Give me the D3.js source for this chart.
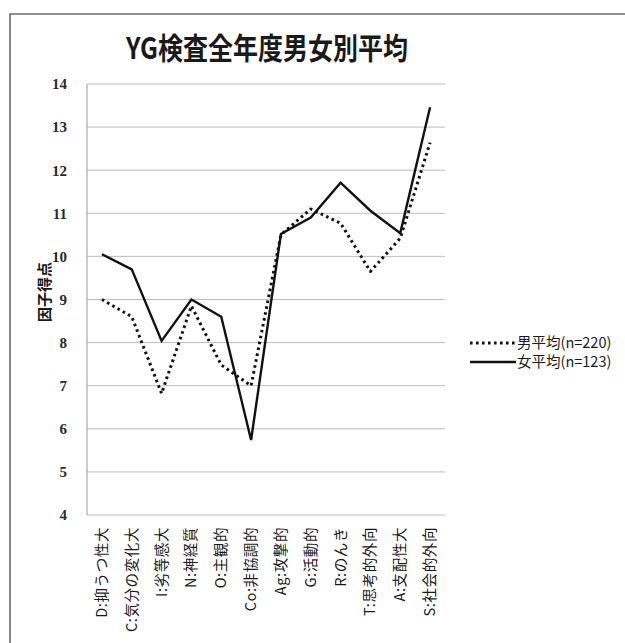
<!DOCTYPE html>
<html>
<head>
<meta charset="utf-8">
<script src="https://cdn.jsdelivr.net/npm/d3@7"></script>
<style>
  html, body { margin: 0; padding: 0; background: #fff; }
  svg { display: block; }
</style>
</head>
<body>
<svg id="chart" width="625" height="643"></svg>
<script>
// YG性格検査 因子別平均得点（男女別）
const categories = [
  "D:抑うつ性大", "C:気分の変化大", "I:劣等感大", "N:神経質", "O:主観的",
  "Co:非協調的", "Ag:攻撃的", "G:活動的", "R:のんき", "T:思考的外向",
  "A:支配性大", "S:社会的外向"
];
const maleValues   = [9.0, 8.6, 6.82, 8.85, 7.48, 7.0, 10.5, 11.1, 10.77, 9.65, 10.42, 12.64];
const femaleValues = [10.05, 9.7, 8.04, 9.0, 8.6, 5.74, 10.52, 10.9, 11.71, 11.06, 10.54, 13.46];
const yTicks = [4, 5, 6, 7, 8, 9, 10, 11, 12, 13, 14];
const seriesNames = ["男平均(n=220)", "女平均(n=123)"];
const titleText = "YG検査全年度男女別平均";
const yTitle = "因子得点";

const svg = d3.select("#chart");
const jp = "'Noto Sans CJK JP', 'Noto Sans', sans-serif";

// outer frame (top and left edges)
svg.append("path")
  .attr("d", "M10,643 V14 H625")
  .attr("fill", "none")
  .attr("stroke", "#6a6a6a")
  .attr("stroke-width", 1.6);

const plot = { left: 87, right: 445, top: 84, bottom: 515 };

const x = d3.scaleBand()
  .domain(categories)
  .range([plot.left, plot.right]);

const y = d3.scaleLinear()
  .domain([4, 14])
  .range([plot.bottom, plot.top]);

// title (slightly condensed gothic look)
svg.append("text")
  .attr("transform", "translate(267,59) scale(1,1.18)")
  .attr("text-anchor", "middle")
  .attr("font-family", jp)
  .attr("font-weight", "bold")
  .attr("font-size", 25)
  .attr("fill", "#1a1a1a")
  .text(titleText);

// horizontal gridlines
svg.append("g")
  .selectAll("line")
  .data(yTicks)
  .join("line")
  .attr("x1", plot.left)
  .attr("x2", plot.right)
  .attr("y1", d => y(d))
  .attr("y2", d => y(d))
  .attr("stroke", "#bdbdbd")
  .attr("stroke-width", 1);

// y axis line
svg.append("line")
  .attr("x1", plot.left).attr("x2", plot.left)
  .attr("y1", plot.top).attr("y2", plot.bottom)
  .attr("stroke", "#9a9a9a")
  .attr("stroke-width", 1);

// y tick labels via axis generator
const yAxis = svg.append("g")
  .attr("transform", `translate(${plot.left},0)`)
  .call(d3.axisLeft(y).tickValues(yTicks).tickSize(0).tickPadding(20).tickFormat(d3.format("d")));
yAxis.select(".domain").remove();
yAxis.selectAll("text")
  .attr("font-family", "'Liberation Serif', serif")
  .attr("font-size", 15)
  .attr("font-weight", "bold")
  .attr("fill", "#2a2a2a");

// y axis title
svg.append("text")
  .attr("transform", "translate(50,292) rotate(-90)")
  .attr("text-anchor", "middle")
  .attr("font-family", jp)
  .attr("font-weight", "bold")
  .attr("font-size", 15)
  .attr("fill", "#1a1a1a")
  .text(yTitle);

// x category labels, rotated
const xAxis = svg.append("g")
  .attr("transform", `translate(0,${plot.bottom})`)
  .call(d3.axisBottom(x).tickSize(0).tickPadding(0));
xAxis.select(".domain").remove();
xAxis.selectAll("text")
  .attr("font-family", jp)
  .attr("font-size", 14.5)
  .attr("letter-spacing", 0.6)
  .attr("fill", "#1a1a1a")
  .attr("text-anchor", "end")
  .attr("dy", null)
  .attr("transform", "translate(5,12) rotate(-90)");

const cx = d => x(d) + x.bandwidth() / 2;

const line = d3.line()
  .x(d => cx(d.cat))
  .y(d => y(d.v));

const maleData = categories.map((c, i) => ({ cat: c, v: maleValues[i] }));
const femaleData = categories.map((c, i) => ({ cat: c, v: femaleValues[i] }));

// male series: dotted
svg.append("path")
  .datum(maleData)
  .attr("d", line)
  .attr("fill", "none")
  .attr("stroke", "#111")
  .attr("stroke-width", 3)
  .attr("stroke-dasharray", "2.6,3.4")
  .attr("stroke-linejoin", "round");

// female series: solid
svg.append("path")
  .datum(femaleData)
  .attr("d", line)
  .attr("fill", "none")
  .attr("stroke", "#111")
  .attr("stroke-width", 2.4)
  .attr("stroke-linejoin", "miter");

// legend
const legend = svg.append("g");
const legendItems = [
  { name: seriesNames[0], dash: "2.6,3.4", width: 3, y: 343 },
  { name: seriesNames[1], dash: null, width: 2.4, y: 362 }
];
legendItems.forEach(it => {
  legend.append("line")
    .attr("x1", 470).attr("x2", 516)
    .attr("y1", it.y).attr("y2", it.y)
    .attr("stroke", "#111")
    .attr("stroke-width", it.width)
    .attr("stroke-dasharray", it.dash);
  legend.append("text")
    .attr("x", 517)
    .attr("y", it.y + 5)
    .attr("font-family", jp)
    .attr("font-size", 14.5)
    .attr("fill", "#1a1a1a")
    .text(it.name);
});
</script>
</body>
</html>
